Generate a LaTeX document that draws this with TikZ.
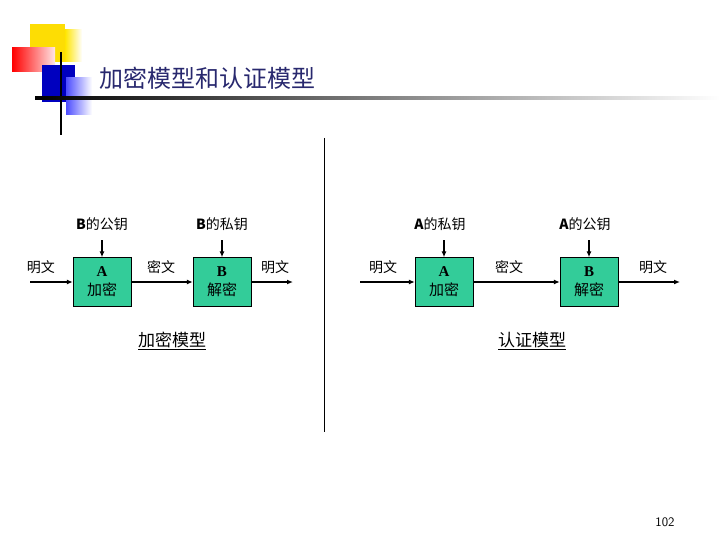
\documentclass[tikz,border=0pt]{standalone}
\usepackage{fontspec}
\setmainfont{Liberation Serif}
\newfontfamily\cjk{Noto Sans CJK SC}
\usetikzlibrary{arrows.meta}
\definecolor{boxg}{RGB}{51,204,153}
\definecolor{ttl}{RGB}{40,40,110}
\begin{document}
\begin{tikzpicture}[x=1pt,y=-1pt,
 blk/.style={draw,fill=boxg,minimum width=58pt,minimum height=49pt,align=center,inner sep=1pt,font=\fontsize{15}{19}\selectfont},
 lbl/.style={font=\fontsize{14}{16}\selectfont\cjk},
 arr/.style={-{Latex[length=6pt,width=5pt]},line width=1.2pt}]
\useasboundingbox (0,0) rectangle (720,540);
% decoration
\fill[yellow!80!orange] (30,24) rectangle (65,62);
\shade[left color=yellow!80!orange,right color=white] (65,30) rectangle (82,62);
\shade[left color=red,right color=red!10] (12,48) rectangle (55,72);
\fill[blue!75!black] (42,65) rectangle (75,102);
\shade[left color=blue!70,right color=white] (66,78) rectangle (92,115);
\draw[line width=2pt] (61,52) -- (61,135);
\shade[left color=black,right color=white] (35,97) rectangle (720,99.5);
\node[anchor=west,text=ttl,font=\fontsize{24}{28}\selectfont\cjk] (title) at (96,78) {加密模型和认证模型};
\draw[line width=0.8pt] (324,138) -- (324,432);
% left
\node[blk] (A1) at (102,282) {\textbf{A}\\{\cjk 加密}};
\node[blk] (B1) at (222,282) {\textbf{B}\\{\cjk 解密}};
\coordinate (s1) at (30,282); \coordinate (e1) at (293,282);
\node[lbl] (k1) at (102,224) {\textbf{B}的公钥};
\node[lbl] (k2) at (222,224) {\textbf{B}的私钥};
\draw[arr] (s1) -- (A1); \draw[arr] (A1) -- (B1); \draw[arr] (B1) -- (e1);
\draw[arr] (k1.south|-0,240) -- (A1.north);
\draw[arr] (k2.south|-0,240) -- (B1.north);
\node[lbl] (p1) at (41,267) {明文};
\node[lbl] (c1) at (161,267) {密文};
\node[lbl] (p2) at (275,267) {明文};
\node[lbl,font=\fontsize{17}{20}\selectfont\cjk] (m1) at (172,341) {\underline{加密模型}};
% right
\node[blk] (A2) at (444,282) {\textbf{A}\\{\cjk 加密}};
\node[blk] (B2) at (589,282) {\textbf{B}\\{\cjk 解密}};
\coordinate (s2) at (360,282); \coordinate (e2) at (680,282);
\node[lbl] (k3) at (440,224) {\textbf{A}的私钥};
\node[lbl] (k4) at (585,224) {\textbf{A}的公钥};
\draw[arr] (s2) -- (A2); \draw[arr] (A2) -- (B2); \draw[arr] (B2) -- (e2);
\draw[arr] (A2.north|-0,240) -- (A2.north);
\draw[arr] (B2.north|-0,240) -- (B2.north);
\node[lbl] (p3) at (383,267) {明文};
\node[lbl] (c2) at (509,267) {密文};
\node[lbl] (p4) at (653,267) {明文};
\node[lbl,font=\fontsize{17}{20}\selectfont\cjk] (m2) at (532,341) {\underline{认证模型}};
\node[font=\fontsize{13}{15}\selectfont\sffamily] (pg) at (665,522) {102};
\end{tikzpicture}
\end{document}
